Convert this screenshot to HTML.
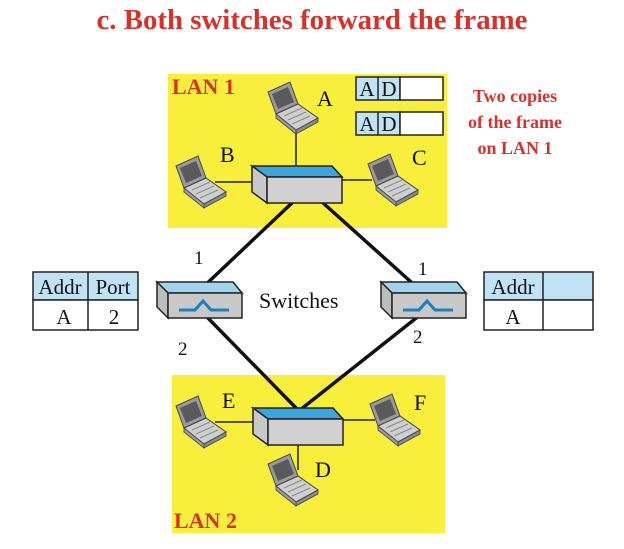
<!DOCTYPE html>
<html><head><style>body{margin:0;background:#fff}svg{display:block}</style></head><body>
<svg width="624" height="549" viewBox="0 0 624 549" xmlns="http://www.w3.org/2000/svg" font-family="Liberation Serif, serif">
<defs>
<g id="lap">
<polygon points="0,4 22,-6 30,16 8,26" fill="#9a9a9a" stroke="#444" stroke-width="1"/>
<polygon points="4,6 20,-1 26,14 10,21" fill="#5a5a5a"/>
<polygon points="8,26 30,16 50,30 28,42" fill="#cfcfcf" stroke="#444" stroke-width="1"/>
<polygon points="28,42 50,30 50,34 28,46" fill="#888" stroke="#444" stroke-width="0.8"/>
<polygon points="8,26 28,42 28,46 8,30" fill="#999" stroke="#444" stroke-width="0.8"/>
<line x1="16" y1="28" x2="34" y2="20" stroke="#888"/><line x1="20" y1="32" x2="38" y2="24" stroke="#888"/><line x1="24" y1="36" x2="42" y2="28" stroke="#888"/>
</g>
<g id="hub">
<polygon points="0,0 80,0 90,11 15,11" fill="#3aa6e0" stroke="#222" stroke-width="1.5"/>
<polygon points="0,0 15,11 15,37 0,26" fill="#c8c8c8" stroke="#222" stroke-width="1.5"/>
<rect x="15" y="11" width="75" height="26" fill="#d0d0d0" stroke="#222" stroke-width="1.5"/>
</g>
<g id="br">
<polygon points="0,0 76,0 85,11 11,11" fill="#9fd3f0" stroke="#222" stroke-width="1.5"/>
<polygon points="0,0 11,11 11,36 0,25" fill="#bcbcbc" stroke="#222" stroke-width="1.5"/>
<rect x="11" y="11" width="74" height="25" fill="#c8c8c8" stroke="#222" stroke-width="1.5"/>
<polyline points="22,28 38,28 46,19 54,28 72,28" fill="none" stroke="#1d7fc0" stroke-width="3"/>
</g>
</defs>
<text x="312" y="29" text-anchor="middle" font-size="28" font-weight="bold" fill="#d8312a" textLength="431" lengthAdjust="spacingAndGlyphs">c. Both switches forward the frame</text>
<rect x="168" y="74" width="279" height="154" fill="#f8ef3c"/>
<rect x="172" y="375" width="273" height="158" fill="#f8ef3c"/>
<g stroke="#222" stroke-width="1.5">
<line x1="296" y1="125" x2="296" y2="166"/>
<line x1="215" y1="182" x2="252" y2="182"/>
<line x1="342" y1="180" x2="372" y2="180"/>
<line x1="298" y1="445" x2="298" y2="470"/>
<line x1="215" y1="422" x2="253" y2="422"/>
<line x1="342" y1="420" x2="375" y2="420"/>
</g>
<g stroke="#111" stroke-width="3.5">
<line x1="293" y1="202" x2="200" y2="290"/>
<line x1="322" y1="202" x2="420" y2="290"/>
<line x1="205" y1="315" x2="298" y2="410"/>
<line x1="420" y1="315" x2="300" y2="410"/>
</g>
<use href="#lap" x="268" y="88"/>
<use href="#lap" x="176" y="162"/>
<use href="#lap" x="368" y="160"/>
<use href="#lap" x="176" y="402"/>
<use href="#lap" x="370" y="400"/>
<use href="#lap" x="268" y="460"/>
<use href="#hub" x="252" y="166"/>
<use href="#hub" x="253" y="408"/>
<use href="#br" x="157" y="282"/>
<use href="#br" x="381" y="282"/>
<g font-size="22" fill="#111">
<text x="317" y="106">A</text><text x="220" y="162">B</text><text x="412" y="165">C</text>
<text x="222" y="408">E</text><text x="414" y="410">F</text><text x="315" y="477">D</text>
<text x="259" y="308">Switches</text>
</g>
<g font-size="19" fill="#111">
<text x="194" y="264">1</text><text x="178" y="355">2</text><text x="418" y="275">1</text><text x="413" y="343">2</text>
</g>
<text x="172" y="94" font-size="22" font-weight="bold" fill="#d8312a">LAN 1</text>
<text x="174" y="528" font-size="22" font-weight="bold" fill="#d8312a">LAN 2</text>
<g font-size="18" font-weight="bold" fill="#d8312a" text-anchor="middle">
<text x="515" y="102">Two copies</text><text x="515" y="128">of the frame</text><text x="515" y="154">on LAN 1</text>
</g>
<g stroke="#222" stroke-width="1.5" font-size="21" fill="#111">
<rect x="356" y="77" width="44" height="23" fill="#bfe3f5"/><rect x="400" y="77" width="43" height="23" fill="#fff"/><line x1="378" y1="77" x2="378" y2="100"/>
<rect x="356" y="112" width="44" height="23" fill="#bfe3f5"/><rect x="400" y="112" width="43" height="23" fill="#fff"/><line x1="378" y1="112" x2="378" y2="135"/>
<rect x="33" y="272" width="105" height="28" fill="#bfe3f5"/><rect x="33" y="300" width="105" height="30" fill="#fff"/><line x1="88" y1="272" x2="88" y2="330"/>
<rect x="484" y="272" width="109" height="28" fill="#bfe3f5"/><rect x="484" y="300" width="109" height="30" fill="#fff"/><line x1="543" y1="272" x2="543" y2="330"/>
</g>
<g font-size="21" fill="#111" text-anchor="middle">
<text x="367" y="96">A</text><text x="389" y="96">D</text><text x="367" y="131">A</text><text x="389" y="131">D</text>
<text x="60" y="294">Addr</text><text x="113" y="294">Port</text><text x="64" y="324">A</text><text x="114" y="324">2</text>
<text x="513" y="294">Addr</text><text x="513" y="324">A</text>
</g>
</svg>
</body></html>
